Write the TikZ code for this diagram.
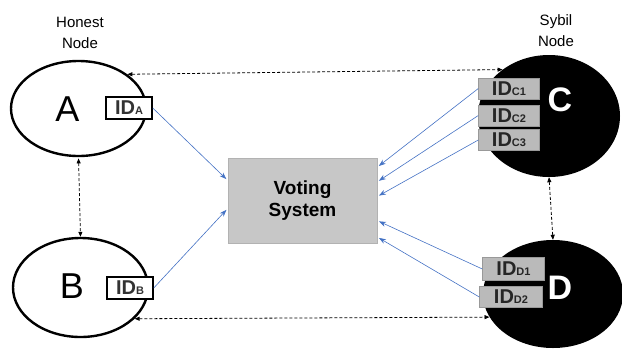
\documentclass[tikz,border=0pt]{standalone}
\usepackage{fontspec}
\setmainfont{Liberation Sans}
\usetikzlibrary{shapes.geometric,arrows.meta}
\definecolor{linkblue}{RGB}{68,114,196}
\newcommand{\idtag}[1]{{\fontsize{20}{20}\selectfont\bfseries ID}{\fontsize{11}{11}\selectfont\bfseries #1}}

\begin{document}
\begin{tikzpicture}[x=1pt, y=-1pt,
    honest/.style={ellipse, draw, line width=2.4pt, inner sep=0pt},
    sybil/.style={ellipse, fill=black, inner sep=0pt},
    idbox/.style={draw=black!40, fill=black!27, inner sep=0pt, minimum height=21pt, text=black!85},
    hbox/.style={draw=black, line width=1.5pt, fill=white, inner sep=0pt,
                 minimum width=46pt, minimum height=22pt, text=black!80},
    votebox/.style={draw=black!30, fill=black!22, minimum width=149pt, minimum height=85pt,
                    align=center, font=\fontsize{19}{22}\selectfont\bfseries},
    caption/.style={align=center, font=\fontsize{15}{21}\selectfont},
    link/.style={-{Stealth[length=7pt,width=5pt]}, draw=linkblue, line width=0.6pt, shorten >=2pt},
    peer/.style={{Triangle[length=5pt,width=4pt]}-{Triangle[length=5pt,width=4pt]},
                 dash pattern=on 3pt off 2pt, line width=0.8pt}]
              \useasboundingbox (0,0) rectangle (622,349);

              \node[honest, minimum width=135pt, minimum height=95pt] (a) at (78.5,108.5) {};
              \node[honest, minimum width=135pt, minimum height=99pt] (b) at (80.5,287.5) {};
              \node[sybil, minimum width=142pt, minimum height=122pt] (c) at (549,116) {};
              \node[sybil, minimum width=140pt, minimum height=108pt] (d) at (553,294) {};

              \node[font=\fontsize{36}{36}\selectfont] (la) at (67.5,109.5) {A};
              \node[font=\fontsize{36}{36}\selectfont] (lb) at (72,286) {B};
              \node[font=\fontsize{34}{34}\selectfont\bfseries, text=white] (lc) at (560,100) {C};
              \node[font=\fontsize{34}{34}\selectfont\bfseries, text=white] (ld) at (560,288) {D};

              \node[hbox] (ida) at (129,108) {\idtag{A}};
              \node[hbox] (idb) at (130,288) {\idtag{B}};
              \node[idbox, minimum width=61pt] (idc1) at (509,88.5) {\idtag{C1}};
              \node[idbox, minimum width=61pt] (idc2) at (509,115.5) {\idtag{C2}};
              \node[idbox, minimum width=61pt] (idc3) at (509,140) {\idtag{C3}};
              \node[idbox, minimum width=62pt, minimum height=23pt] (idd1) at (513.5,269) {\idtag{D1}};
              \node[idbox, minimum width=63pt] (idd2) at (511,297) {\idtag{D2}};

              \node[votebox] (vs) at (302.5,200.5) {Voting\\System};

              \node[caption] (hn) at (80,33) {Honest\\Node};
              \node[caption] (sn) at (556,31) {Sybil\\Node};

              \draw[link] (ida.east) -- (vs.165);
              \draw[link] (idb.east) -- (vs.186);
              \draw[link] (idc1.west) -- (vs.24);
              \draw[link] (idc2.west) -- (vs.14);
              \draw[link] (idc3.west) -- (vs.3);
              \draw[link] (idd1.west) -- (vs.345);
              \draw[link] (idd2.west) -- (vs.334);

              \draw[peer] (a.35) -- (c.135);
              \draw[peer, shorten <=1.2pt] (a.south) -- (b.north);
              \draw[peer] (c.south) -- (d.north);
              \draw[peer] (b.-30) -- (d.200);
            \end{tikzpicture}
\end{document}
